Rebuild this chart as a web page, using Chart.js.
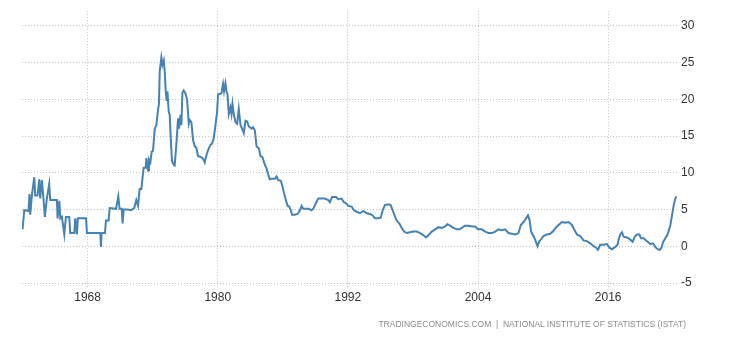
<!DOCTYPE html>
<html>
<head>
<meta charset="utf-8">
<script src="https://cdn.jsdelivr.net/npm/chart.js@4.4.0/dist/chart.umd.min.js"></script>
<style>
  html, body { margin: 0; padding: 0; background: #fff; }
  #wrap { position: relative; width: 730px; height: 340px; }
  #source {
    position: absolute; right: 44px; top: 319px;
    font: 8.5px "Liberation Sans", Arial, sans-serif;
    color: #8c8c8c; white-space: nowrap;
  }
</style>
</head>
<body>
<div id="wrap">
  <canvas id="chart" width="730" height="340"></canvas>
  <div id="source">TRADINGECONOMICS.COM&nbsp; |&nbsp; NATIONAL INSTITUTE OF STATISTICS (ISTAT)</div>
</div>
<script>
// Italy inflation rate (%)
const years = [
  1962.0, 1962.16, 1962.55, 1962.64, 1962.71, 1962.86, 1963.08, 1963.17, 1963.38, 1963.54,
  1963.63, 1963.78, 1963.94, 1964.06, 1964.24, 1964.46, 1964.55, 1965.17, 1965.23, 1965.39,
  1965.48, 1965.63, 1965.85, 1966.0, 1966.31, 1966.40, 1966.77, 1966.86, 1967.01, 1967.1,
  1967.85, 1967.94, 1969.17, 1969.23, 1969.29, 1969.6, 1969.69, 1969.94, 1970.03, 1970.62,
  1970.83, 1970.95, 1971.14, 1971.23, 1971.32, 1971.69, 1972.0, 1972.3, 1972.49, 1972.65,
  1972.8, 1972.96, 1973.05, 1973.17, 1973.36, 1973.42, 1973.57, 1973.66, 1973.79, 1973.91,
  1974.03, 1974.19, 1974.34, 1974.49, 1974.58, 1974.65, 1974.8, 1974.9, 1975.02, 1975.11,
  1975.2, 1975.29, 1975.36, 1975.48, 1975.57, 1975.66, 1975.78, 1975.94, 1976.03, 1976.19,
  1976.34, 1976.43, 1976.56, 1976.65, 1976.74, 1976.86, 1977.02, 1977.17, 1977.33, 1977.42,
  1977.57, 1977.72, 1977.88, 1978.03, 1978.18, 1978.5, 1978.65, 1978.8, 1978.9, 1979.11,
  1979.33, 1979.48, 1979.63, 1979.79, 1979.94, 1980.03, 1980.34, 1980.49, 1980.58, 1980.71,
  1980.8, 1980.9, 1981.02, 1981.17, 1981.27, 1981.36, 1981.48, 1981.64, 1981.79, 1981.94,
  1982.1, 1982.25, 1982.4, 1982.56, 1982.71, 1982.87, 1983.12, 1983.26, 1983.42, 1983.58,
  1983.79, 1983.94, 1984.13, 1984.34, 1984.5, 1984.65, 1984.8, 1984.96, 1985.27, 1985.42,
  1985.57, 1985.82, 1985.94, 1986.13, 1986.28, 1986.44, 1986.59, 1986.74, 1986.86, 1987.11,
  1987.36, 1987.58, 1987.73, 1987.88, 1988.19, 1988.4, 1988.65, 1988.8, 1989.02, 1989.27,
  1989.58, 1989.88, 1990.19, 1990.34, 1990.55, 1990.9, 1991.11, 1991.42, 1991.64, 1991.88,
  1992.03, 1992.34, 1992.56, 1992.81, 1993.12, 1993.42, 1993.73, 1994.04, 1994.29, 1994.5,
  1994.81, 1995.03, 1995.21, 1995.42, 1995.73, 1995.95, 1996.13, 1996.35, 1996.5, 1996.75,
  1996.97, 1997.18, 1997.43, 1997.73, 1998.04, 1998.35, 1998.66, 1998.96, 1999.21, 1999.42,
  1999.74, 2000.04, 2000.35, 2000.66, 2000.97, 2001.18, 2001.43, 2001.73, 2002.05, 2002.29,
  2002.5, 2002.81, 2003.12, 2003.43, 2003.74, 2004.0, 2004.35, 2004.66, 2004.96, 2005.28,
  2005.58, 2005.89, 2006.2, 2006.5, 2006.81, 2007.12, 2007.43, 2007.73, 2007.95, 2008.2,
  2008.44, 2008.6, 2008.75, 2008.9, 2009.18, 2009.37, 2009.49, 2009.65, 2009.8, 2010.04,
  2010.35, 2010.66, 2010.96, 2011.21, 2011.43, 2011.74, 2012.04, 2012.35, 2012.66, 2012.87,
  2013.12, 2013.43, 2013.73, 2014.04, 2014.35, 2014.66, 2014.9, 2015.06, 2015.27, 2015.58,
  2015.89, 2016.13, 2016.35, 2016.66, 2016.87, 2016.96, 2017.12, 2017.28, 2017.42, 2017.74,
  2018.05, 2018.26, 2018.45, 2018.66, 2018.88, 2019.03, 2019.27, 2019.43, 2019.64, 2019.89,
  2020.14, 2020.35, 2020.57, 2020.75, 2020.91, 2021.07, 2021.28, 2021.44, 2021.58, 2021.74,
  2021.9, 2022.05, 2022.2, 2022.29
];
const values = [
  2.3, 4.9, 4.8, 7.1, 4.3, 6.9, 9.4, 6.9, 6.9, 9.1,
  6.5, 9.0, 6.3, 4.0, 6.5, 8.5, 6.3, 6.3, 3.8, 6.2,
  3.8, 4.0, 1.6, 4.0, 4.0, 1.8, 1.8, 3.8, 1.6, 3.8,
  3.8, 1.8, 1.8, -0.1, 1.8, 1.8, 3.5, 3.5, 5.2, 5.1,
  6.8, 5.1, 5.1, 3.1, 5.0, 5.0, 4.9, 5.2, 6.3, 5.5,
  7.8, 7.8, 9.1, 10.7, 10.7, 12.0, 10.3, 11.8, 11.4, 12.9,
  13.0, 16.0, 16.5, 18.5, 19.4, 23.8, 25.7, 24.7, 25.3, 23.8,
  21.1, 19.8, 21.1, 18.3, 17.9, 14.9, 11.6, 11.1, 11.0, 14.0,
  17.4, 16.0, 17.9, 16.5, 20.9, 21.2, 20.8, 20.0, 16.7, 17.2,
  16.9, 14.5, 13.6, 13.4, 12.3, 12.1, 11.9, 11.4, 12.1, 13.1,
  13.8, 14.0, 14.7, 16.5, 18.3, 20.7, 20.8, 22.1, 21.1, 22.2,
  21.1, 20.7, 18.0, 18.9, 18.0, 19.4, 18.0, 16.9, 16.7, 18.7,
  16.5, 16.0, 15.4, 17.1, 17.0, 16.3, 16.0, 16.2, 15.8, 13.6,
  13.3, 12.3, 12.1, 11.1, 10.6, 9.8, 9.1, 9.2, 9.2, 9.5,
  9.0, 8.9, 8.3, 7.1, 6.3, 5.5, 5.4, 4.9, 4.3, 4.3,
  4.4, 4.9, 5.5, 5.1, 5.1, 5.1, 4.9, 5.1, 5.8, 6.5,
  6.5, 6.5, 6.3, 6.0, 6.7, 6.7, 6.4, 6.5, 6.0, 5.8,
  5.5, 5.4, 4.9, 4.7, 4.5, 4.8, 4.5, 4.4, 4.2, 3.8,
  3.8, 3.9, 4.9, 5.6, 5.7, 5.6, 4.9, 4.0, 3.5, 3.1,
  2.5, 2.0, 1.8, 1.9, 2.0, 2.0, 1.8, 1.5, 1.2, 1.5,
  2.0, 2.3, 2.6, 2.5, 2.7, 3.0, 2.8, 2.5, 2.3, 2.3,
  2.5, 2.8, 2.8, 2.7, 2.7, 2.3, 2.3, 2.0, 1.8, 1.8,
  2.0, 2.3, 2.2, 2.3, 1.8, 1.7, 1.6, 1.8, 2.9, 3.3,
  3.8, 4.2, 3.6, 2.0, 1.2, 0.5, 0.0, 0.7, 0.9, 1.4,
  1.6, 1.7, 2.1, 2.6, 2.9, 3.3, 3.2, 3.3, 2.9, 2.3,
  1.6, 1.4, 0.8, 0.7, 0.4, 0.0, -0.2, -0.5, 0.2, 0.2,
  0.3, -0.2, -0.4, -0.1, 0.2, 0.9, 1.6, 1.9, 1.3, 1.2,
  0.9, 0.6, 1.3, 1.6, 1.6, 1.1, 1.1, 0.9, 0.6, 0.3,
  0.4, -0.1, -0.4, -0.5, -0.2, 0.6, 1.1, 1.5, 2.1, 2.9,
  4.3, 5.6, 6.5, 6.8
];
const xTicks = [1968, 1980, 1992, 2004, 2016];
const yTicks = [-5, 0, 5, 10, 15, 20, 25, 30];

const gridColor = '#c4c4c4';

new Chart(document.getElementById('chart'), {
  type: 'line',
  data: {
    datasets: [{
      data: years.map((x, i) => ({ x: x, y: values[i] })),
      borderColor: '#4682b4',
      borderWidth: 2,
      pointRadius: 0,
      tension: 0,
      fill: false
    }]
  },
  options: {
    responsive: false,
    animation: false,
    layout: { padding: { left: 22, top: 5, right: 0, bottom: 0 } },
    plugins: { legend: { display: false }, tooltip: { enabled: false } },
    scales: {
      x: {
        type: 'linear',
        min: 1961.95,
        max: 2022.35,
        afterBuildTicks: s => { s.ticks = xTicks.map(v => ({ value: v })); },
        afterFit: s => { s.height = 57; },
        border: { display: false, dash: [1, 2] },
        grid: {
          color: gridColor,
          tickColor: gridColor,
          tickBorderDash: [1, 2],
          tickLength: 5,
          drawTicks: true
        },
        ticks: {
          padding: 2,
          maxRotation: 0,
          color: '#333',
          font: { family: '"Liberation Sans", Arial, sans-serif', size: 12 },
          callback: v => String(v)
        }
      },
      y: {
        position: 'right',
        min: -5,
        max: 32,
        afterBuildTicks: s => { s.ticks = yTicks.map(v => ({ value: v })); },
        afterFit: s => { s.width = 53; },
        border: { display: false, dash: [1, 2] },
        grid: {
          color: gridColor,
          drawTicks: false
        },
        ticks: {
          padding: 4,
          color: '#333',
          font: { family: '"Liberation Sans", Arial, sans-serif', size: 12 },
          callback: v => String(v)
        }
      }
    }
  }
});
</script>
</body>
</html>
